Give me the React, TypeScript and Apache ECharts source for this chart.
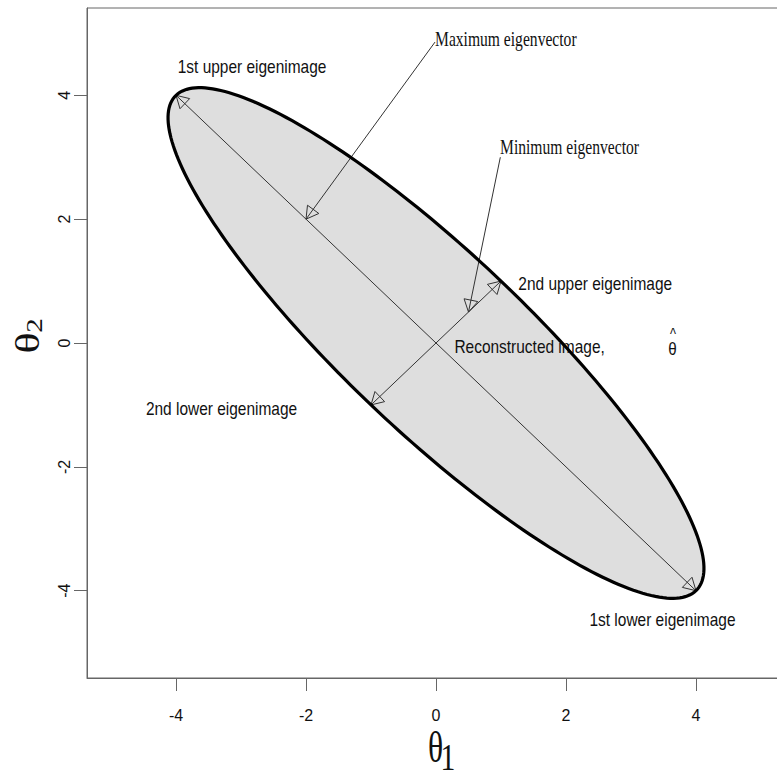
import React, { useEffect, useRef } from "react";
import * as echarts from "echarts";

// Axes
const xTicks = [-4, -2, 0, 2, 4];
const yTicks = [-4, -2, 0, 2, 4];
const xRange = [-5.37, 5.37];
const yRange = [-5.41, 5.41];

// Ellipse defined by centre and two conjugate semi-axis tips (data units)
const ellipseCenter = [0, 0];
const ellipseMajorTip = [4, -4];
const ellipseMinorTip = [1, 1];

// Arrows (data units)
const arrowStarts = [
  [4, -4],
  [-1, -1],
  [-0.015, 4.86],
  [0.99, 3.0],
];
const arrowEnds = [
  [-4, 4],
  [1, 1],
  [-2, 2],
  [0.5, 0.5],
];
const arrowDoubleHeaded = [true, true, false, false];

// Region labels (centred)
const regionLabels = [
  "1st upper eigenimage",
  "2nd upper eigenimage",
  "Reconstructed image,",
  "2nd lower eigenimage",
  "1st lower eigenimage",
];
const regionLabelX = [-2.83, 2.45, 1.44, -3.3, 3.485];
const regionLabelY = [4.46, 0.95, -0.065, -1.07, -4.47];

// Eigenvector annotation labels (left-aligned)
const vectorLabels = ["Maximum eigenvector", "Minimum eigenvector"];
const vectorLabelX = [-0.015, 0.985];
const vectorLabelY = [4.91, 3.16];

// Estimate symbol (theta with a hat)
const estimateSymbol = ["\u03B8"];
const estimateHat = ["^"];
const estimateX = [3.64];
const estimateY = [-0.09];

const SANS = '"Liberation Sans", Arial, sans-serif';
const SERIF = '"Liberation Serif", "Times New Roman", serif';

function ellipsePoints(api: any) {
  const pts: number[][] = [];
  const n = 240;
  for (let k = 0; k < n; k++) {
    const t = (2 * Math.PI * k) / n;
    const c = Math.cos(t);
    const s = Math.sin(t);
    pts.push(
      api.coord([
        ellipseCenter[0] + c * ellipseMajorTip[0] + s * ellipseMinorTip[0],
        ellipseCenter[1] + c * ellipseMajorTip[1] + s * ellipseMinorTip[1],
      ])
    );
  }
  return pts;
}

function arrowHead(tip: number[], from: number[]) {
  const L = 14;
  const ang = Math.PI / 6;
  const dx = from[0] - tip[0];
  const dy = from[1] - tip[1];
  const len = Math.hypot(dx, dy) || 1;
  const ux = dx / len;
  const uy = dy / len;
  const rot = (a: number) => [
    tip[0] + L * (ux * Math.cos(a) - uy * Math.sin(a)),
    tip[1] + L * (ux * Math.sin(a) + uy * Math.cos(a)),
  ];
  return {
    type: "polygon",
    shape: { points: [tip, rot(ang), rot(-ang)] },
    style: { fill: "none", stroke: "#333", lineWidth: 1 },
  };
}

const titleStyle = (text: string, size: number) => ({
  text,
  font: size + "px " + SERIF,
  align: "center",
  verticalAlign: "middle",
  textAlign: "center",
  textVerticalAlign: "middle",
  fill: "#111",
});

export default function App() {
  const ref = useRef<HTMLDivElement>(null);
  useEffect(() => {
    if (!ref.current) return;
    const chart = echarts.init(ref.current, undefined, { renderer: "svg" });
    const option: any = {
      animation: false,
      backgroundColor: "#ffffff",
      grid: {
        left: 87,
        top: 8,
        width: 698,
        height: 670,
        show: true,
        borderColor: "#666",
        borderWidth: 1,
        backgroundColor: "transparent",
      },
      xAxis: {
        type: "value",
        min: xRange[0],
        max: xRange[1],
        splitLine: { show: false },
        axisLine: { show: true, onZero: false, lineStyle: { color: "#666", width: 1 } },
        axisTick: { show: true, inside: false, length: 13, customValues: xTicks, lineStyle: { color: "#666" } },
        axisLabel: {
          show: true,
          customValues: xTicks,
          margin: 29,
          fontSize: 16,
          fontFamily: SANS,
          color: "#111",
        },
      },
      yAxis: {
        type: "value",
        min: yRange[0],
        max: yRange[1],
        splitLine: { show: false },
        axisLine: { show: true, onZero: false, lineStyle: { color: "#666", width: 1 } },
        axisTick: { show: true, inside: false, length: 13, customValues: yTicks, lineStyle: { color: "#666" } },
        axisLabel: {
          show: true,
          customValues: yTicks,
          rotate: 90,
          margin: 15,
          fontSize: 16,
          fontFamily: SANS,
          color: "#111",
        },
      },
      graphic: [
        { type: "text", x: 435.5, y: 747.5, scaleX: 0.72, style: titleStyle("\u03B8", 44) },
        { type: "text", x: 448, y: 757, scaleX: 0.78, style: titleStyle("1", 38) },
        { type: "text", x: 27, y: 343, rotation: Math.PI / 2, scaleY: 0.77, style: titleStyle("\u03B8", 44) },
        { type: "text", x: 35, y: 325.5, rotation: Math.PI / 2, scaleY: 0.77, style: titleStyle("2", 29) },
      ],
      series: [
        {
          type: "custom",
          name: "ellipse-fill",
          z: 1,
          data: [[ellipseCenter[0], ellipseCenter[1]]],
          renderItem: (_p: any, api: any) => ({
            type: "polygon",
            shape: { points: ellipsePoints(api) },
            style: { fill: "#dedede", stroke: "none" },
          }),
        },
        {
          type: "custom",
          name: "arrows",
          z: 2,
          data: arrowStarts.map((s, i) => [s[0], s[1], arrowEnds[i][0], arrowEnds[i][1], arrowDoubleHeaded[i] ? 1 : 0]),
          encode: { x: [0, 2], y: [1, 3] },
          renderItem: (_p: any, api: any) => {
            const p0 = api.coord([api.value(0), api.value(1)]);
            const p1 = api.coord([api.value(2), api.value(3)]);
            const children: any[] = [
              {
                type: "line",
                shape: { x1: p0[0], y1: p0[1], x2: p1[0], y2: p1[1] },
                style: { stroke: "#333", lineWidth: 1 },
              },
              arrowHead(p1, p0),
            ];
            if (api.value(4) === 1) children.push(arrowHead(p0, p1));
            return { type: "group", children };
          },
        },
        {
          type: "custom",
          name: "region-labels",
          z: 3,
          data: regionLabels.map((_t, i) => [regionLabelX[i], regionLabelY[i], i]),
          renderItem: (_p: any, api: any) => {
            const p = api.coord([api.value(0), api.value(1)]);
            return {
              type: "text",
              x: p[0],
              y: p[1],
              scaleX: 0.86,
              style: {
                text: regionLabels[api.value(2)],
                x: 0,
                y: 0,
                fontSize: 18,
                fontFamily: SANS,
                fill: "#111",
                align: "center",
                verticalAlign: "middle",
              },
            };
          },
        },
        {
          type: "custom",
          name: "vector-labels",
          z: 3,
          data: vectorLabels.map((_t, i) => [vectorLabelX[i], vectorLabelY[i], i]),
          renderItem: (_p: any, api: any) => {
            const p = api.coord([api.value(0), api.value(1)]);
            return {
              type: "text",
              x: p[0],
              y: p[1],
              scaleX: 0.78,
              style: {
                text: vectorLabels[api.value(2)],
                x: 0,
                y: 0,
                fontSize: 20,
                fontFamily: SERIF,
                fill: "#111",
                align: "left",
                verticalAlign: "middle",
              },
            };
          },
        },
        {
          type: "custom",
          name: "estimate",
          z: 3,
          data: estimateSymbol.map((_t, i) => [estimateX[i], estimateY[i], i]),
          renderItem: (_p: any, api: any) => {
            const p = api.coord([api.value(0), api.value(1)]);
            const i = api.value(2);
            return {
              type: "group",
              children: [
                {
                  type: "text",
                  x: p[0],
                  y: p[1],
                  scaleX: 0.8,
                  style: {
                    text: estimateSymbol[i],
                    x: 0,
                    y: 0,
                    fontSize: 19,
                    fontFamily: SANS,
                    fill: "#111",
                    align: "center",
                    verticalAlign: "middle",
                  },
                },
                {
                  type: "text",
                  x: p[0] + 0.5,
                  y: p[1] - 14,
                  scaleX: 0.8,
                  style: {
                    text: estimateHat[i],
                    x: 0,
                    y: 0,
                    fontSize: 16,
                    fontFamily: SANS,
                    fill: "#111",
                    align: "center",
                    verticalAlign: "middle",
                  },
                },
              ],
            };
          },
        },
        {
          type: "custom",
          name: "ellipse-outline",
          z: 4,
          data: [[ellipseCenter[0], ellipseCenter[1]]],
          renderItem: (_p: any, api: any) => ({
            type: "polygon",
            shape: { points: ellipsePoints(api) },
            style: { fill: "none", stroke: "#000", lineWidth: 3.2 },
          }),
        },
      ],
    };
    chart.setOption(option);
    return () => chart.dispose();
  }, []);
  return (
    <div
      ref={ref}
      style={{ position: "fixed", left: 0, top: 0, width: 795, height: 777, background: "#fff" }}
    />
  );
}
